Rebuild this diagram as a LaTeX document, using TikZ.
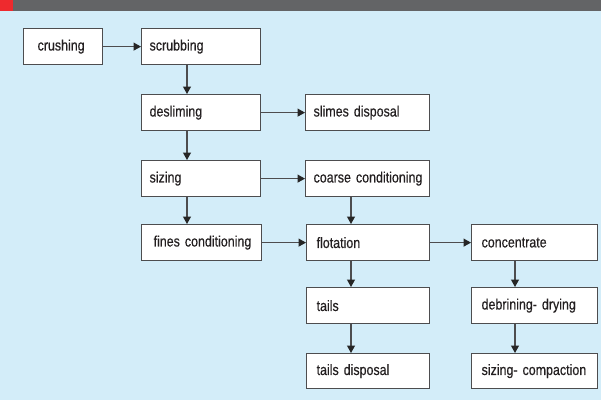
\documentclass[tikz,border=0pt]{standalone}
\usepackage{fontspec}
\setmainfont{Liberation Sans}[FakeStretch=0.83,FakeBold=0.4]
\usetikzlibrary{arrows.meta}
\definecolor{bgblue}{HTML}{D3EDF9}
\definecolor{bargray}{HTML}{636466}
\definecolor{barred}{HTML}{EE2A2E}
\definecolor{linegray}{HTML}{4D4D4F}
\definecolor{tipcol}{HTML}{262626}
\definecolor{txtcol}{HTML}{231F20}
\begin{document}
\begin{tikzpicture}[x=1pt,y=-1pt,
  box/.style={draw=linegray, line width=1.2pt, fill=white, anchor=north west, text=txtcol,
    minimum height=36pt, inner ysep=0pt, align=left, font=\fontsize{15}{16}\selectfont,
    execute at begin node=\mbox\bgroup, execute at end node=\egroup},
  arr/.style={draw=linegray, line width=1.2pt, -{Triangle[length=7.5pt,width=8pt,color=tipcol]}}]
\useasboundingbox (0,0) rectangle (601,400);
\fill[bgblue] (0,0) rectangle (601,400);
\fill[bargray] (0,0) rectangle (601,11);
\fill[barred] (0,0) rectangle (12.5,11);
% boxes
\node[box, minimum width=79pt, inner xsep=14pt, text width=51pt] (crush) at (23,28) {crushing};
\node[box, minimum width=119pt, inner xsep=8pt, text width=103pt] (scrub) at (141,28) {scrubbing};
\node[box, minimum width=119pt, inner xsep=8pt, text width=103pt] (desl) at (141,94) {desliming};
\node[box, minimum width=119pt, inner xsep=8pt, text width=103pt] (siz) at (141,160) {sizing};
\node[box, minimum width=120pt, inner xsep=12pt, text width=96pt] (fines) at (141,224) {fines conditioning};
\node[box, minimum width=124pt, inner xsep=8pt, text width=108pt] (slimes) at (305,94) {slimes disposal};
\node[box, minimum width=124pt, inner xsep=8pt, text width=108pt] (coarse) at (305,160) {coarse conditioning};
\node[box, minimum width=123pt, inner xsep=10pt, text width=103pt] (flot) at (306,224) {flotation};
\node[box, minimum width=123pt, inner xsep=10pt, text width=103pt] (tails) at (306,287) {tails};
\node[box, minimum width=123pt, inner xsep=10pt, text width=103pt, minimum height=35pt] (tdisp) at (306,353) {tails disposal};
\node[box, minimum width=126pt, inner xsep=10pt, text width=106pt] (conc) at (471,224) {concentrate};
\node[box, minimum width=126pt, inner xsep=10pt, text width=106pt] (debr) at (471,287) {debrining- drying};
\node[box, minimum width=126pt, inner xsep=10pt, text width=106pt, minimum height=35pt] (scomp) at (471,353) {sizing- compaction};
% horizontal arrows
\draw[arr] (crush.east) -- (scrub.west);
\draw[arr] (desl.east) -- (slimes.west);
\draw[arr] (siz.east) -- (coarse.west);
\draw[arr] (fines.east) -- (flot.west);
\draw[arr] (flot.east) -- (conc.west);
% vertical arrows
\draw[arr] ([xshift=46pt]scrub.south west) -- ([xshift=46pt]desl.north west);
\draw[arr] ([xshift=46pt]desl.south west) -- ([xshift=46pt]siz.north west);
\draw[arr] ([xshift=46pt]siz.south west) -- ([xshift=46pt]fines.north west);
\draw[arr] ([xshift=46pt]coarse.south west) -- ([xshift=45pt]flot.north west);
\draw[arr] ([xshift=45pt]flot.south west) -- ([xshift=45pt]tails.north west);
\draw[arr] ([xshift=45pt]tails.south west) -- ([xshift=45pt]tdisp.north west);
\draw[arr] ([xshift=44pt]conc.south west) -- ([xshift=44pt]debr.north west);
\draw[arr] ([xshift=44pt]debr.south west) -- ([xshift=44pt]scomp.north west);
\end{tikzpicture}
\end{document}
